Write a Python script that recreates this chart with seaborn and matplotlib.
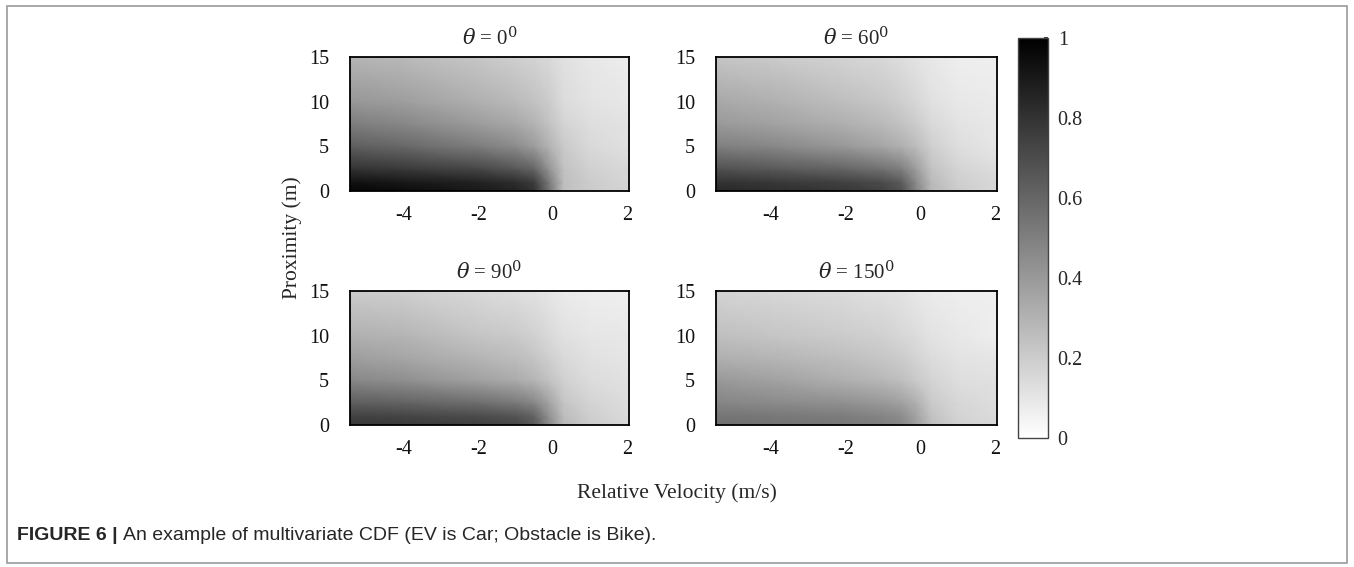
import numpy as np
import seaborn as sns
import matplotlib.pyplot as plt
from matplotlib.patches import Rectangle

# grid (velocity m/s, proximity m)
VEL = [-5.5, -4, -2, -1, -0.5, -0.1, 0.3, 1, 2.1]
PROX = [0, 1, 2.5, 5, 7.5, 10, 15]

# estimated CDF values, rows = PROX (bottom to top), cols = VEL
CDF_0 = [
    [0.98, 0.95, 0.90, 0.86, 0.80, 0.55, 0.25, 0.20, 0.17],
    [0.93, 0.90, 0.86, 0.82, 0.76, 0.52, 0.25, 0.20, 0.16],
    [0.80, 0.77, 0.72, 0.66, 0.60, 0.42, 0.24, 0.18, 0.15],
    [0.63, 0.59, 0.51, 0.45, 0.39, 0.30, 0.21, 0.15, 0.12],
    [0.51, 0.47, 0.39, 0.34, 0.30, 0.24, 0.17, 0.13, 0.11],
    [0.41, 0.38, 0.31, 0.27, 0.24, 0.20, 0.14, 0.11, 0.09],
    [0.29, 0.27, 0.22, 0.19, 0.17, 0.15, 0.12, 0.09, 0.07],
]
CDF_60 = [
    [0.84, 0.82, 0.78, 0.74, 0.68, 0.48, 0.28, 0.20, 0.15],
    [0.80, 0.78, 0.74, 0.70, 0.64, 0.45, 0.27, 0.19, 0.15],
    [0.68, 0.65, 0.60, 0.55, 0.50, 0.38, 0.24, 0.17, 0.13],
    [0.50, 0.47, 0.40, 0.35, 0.31, 0.26, 0.19, 0.13, 0.10],
    [0.40, 0.37, 0.31, 0.27, 0.24, 0.20, 0.15, 0.11, 0.09],
    [0.34, 0.31, 0.25, 0.22, 0.19, 0.16, 0.12, 0.09, 0.08],
    [0.23, 0.21, 0.17, 0.15, 0.13, 0.11, 0.09, 0.07, 0.06],
]
CDF_90 = [
    [0.78, 0.77, 0.75, 0.72, 0.65, 0.46, 0.28, 0.20, 0.15],
    [0.74, 0.73, 0.70, 0.67, 0.61, 0.43, 0.26, 0.19, 0.14],
    [0.63, 0.61, 0.57, 0.52, 0.47, 0.36, 0.23, 0.17, 0.13],
    [0.47, 0.44, 0.37, 0.33, 0.29, 0.24, 0.18, 0.14, 0.12],
    [0.38, 0.35, 0.29, 0.26, 0.23, 0.19, 0.15, 0.12, 0.10],
    [0.31, 0.29, 0.23, 0.21, 0.18, 0.15, 0.12, 0.10, 0.09],
    [0.20, 0.19, 0.15, 0.13, 0.12, 0.10, 0.08, 0.07, 0.06],
]
CDF_150 = [
    [0.56, 0.55, 0.53, 0.50, 0.47, 0.38, 0.25, 0.18, 0.15],
    [0.54, 0.53, 0.51, 0.48, 0.45, 0.36, 0.24, 0.17, 0.14],
    [0.48, 0.46, 0.43, 0.40, 0.37, 0.31, 0.21, 0.16, 0.13],
    [0.40, 0.37, 0.31, 0.28, 0.25, 0.21, 0.17, 0.13, 0.12],
    [0.31, 0.29, 0.25, 0.22, 0.20, 0.17, 0.14, 0.11, 0.10],
    [0.25, 0.23, 0.20, 0.18, 0.16, 0.14, 0.11, 0.09, 0.07],
    [0.17, 0.16, 0.14, 0.12, 0.11, 0.09, 0.08, 0.07, 0.06],
]

TITLES = [r'$\theta$ = 0$^0$', r'$\theta$ = 60$^0$',
          r'$\theta$ = 90$^0$', r'$\theta$ = 150$^0$']
PANELS = [CDF_0, CDF_60, CDF_90, CDF_150]
XTICKS = [-4, -2, 0, 2]
YTICKS = [0, 5, 10, 15]
CBAR_TICKS = [0, 0.2, 0.4, 0.6, 0.8, 1]

sns.set_theme(style='white')
plt.rcParams['font.family'] = ['Liberation Serif', 'DejaVu Serif']
plt.rcParams['mathtext.fontset'] = 'dejavuserif'
plt.rcParams['axes.unicode_minus'] = False

cmap = sns.blend_palette(['#ffffff', '#000000'], as_cmap=True)

W, H = 1354, 567
fig = plt.figure(figsize=(W / 100, H / 100), dpi=100)

# outer frame
fig.patches.append(Rectangle((7 / W, 4 / H), 1340 / W, 557 / H, transform=fig.transFigure,
                             fill=False, edgecolor='#9a9a9a', linewidth=1.2))


def px_axes(x0, y0, x1, y1):
    return fig.add_axes([x0 / W, 1 - y1 / H, (x1 - x0) / W, (y1 - y0) / H])


boxes = [(350, 57, 629, 191), (716, 57, 997, 191),
         (350, 291, 629, 425), (716, 291, 997, 425)]

X, Y = np.meshgrid(VEL, PROX)
mesh = None
for box, data, title in zip(boxes, PANELS, TITLES):
    ax = px_axes(*box)
    mesh = ax.pcolormesh(X, Y, np.array(data), cmap=cmap, vmin=0, vmax=1,
                         shading='gouraud', rasterized=True)
    ax.set_xlim(-5.45, 2.05)
    ax.set_ylim(0, 15)
    ax.set_xticks(XTICKS)
    ax.set_yticks(YTICKS)
    ax.tick_params(length=0, labelsize=14.5, colors='#111111')
    ax.tick_params(axis='x', pad=11)
    ax.tick_params(axis='y', pad=15)
    for s in ax.spines.values():
        s.set_color('black')
        s.set_linewidth(1.3)
    ax.set_title(title, fontsize=15, pad=8)

cax = px_axes(1018, 38, 1048, 438)
cb = fig.colorbar(mesh, cax=cax, ticks=CBAR_TICKS)
cb.ax.set_yticklabels(['0', '0.2', '0.4', '0.6', '0.8', '1'])
cb.ax.tick_params(length=3, direction='in', labelsize=14.5, pad=7)
cb.outline.set_edgecolor('#444444')
cb.outline.set_linewidth(1.0)

fig.text(292 / W, 1 - 238 / H, 'Proximity (m)', rotation=90, fontsize=15.5,
         ha='center', va='center')
fig.text(677 / W, 1 - 493 / H, 'Relative Velocity (m/s)', fontsize=15.5,
         ha='center', va='center')

bold = fig.text(17 / W, 1 - 535 / H, 'FIGURE 6 | ', fontsize=14, fontweight='bold',
                family='Liberation Sans', ha='left', va='center')
fig.canvas.draw()
bb = bold.get_window_extent()
fig.text(bb.x1 / W, 1 - 535 / H,
         'An example of multivariate CDF (EV is Car; Obstacle is Bike).',
         fontsize=14, family='Liberation Sans', ha='left', va='center')

plt.savefig('out.png', dpi=100)
